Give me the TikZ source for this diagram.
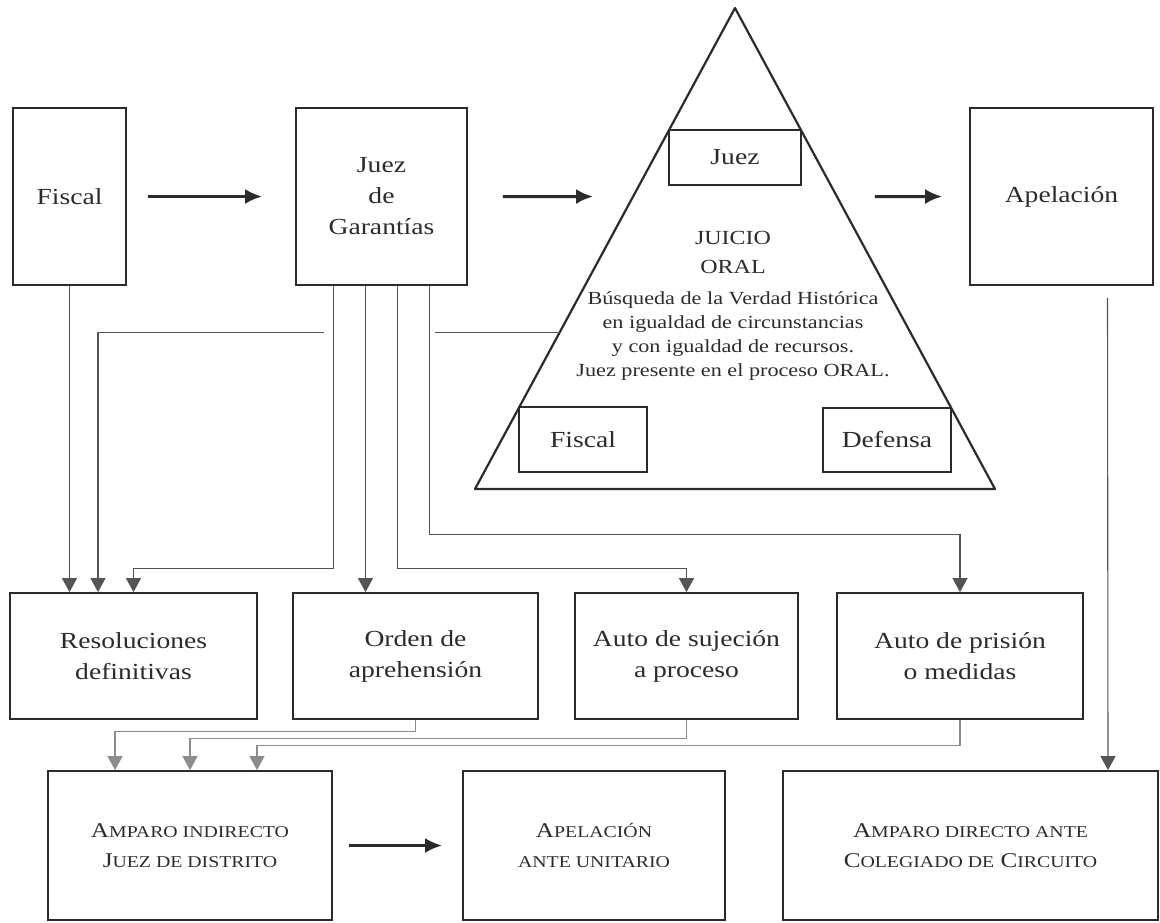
\documentclass[tikz,border=0pt]{standalone}
\usepackage{fontspec}
\setmainfont{Liberation Serif}[FakeStretch=1.2]
\usepackage{tikz}
\usetikzlibrary{calc,arrows.meta}
\definecolor{ink}{rgb}{0.17,0.17,0.17}
\definecolor{wire}{rgb}{0.33,0.33,0.33}
\definecolor{wirelt}{rgb}{0.55,0.55,0.55}
\newcommand{\smcap}[1]{{\fontsize{16.5}{30}\selectfont #1}}

\begin{document}
\begin{tikzpicture}[x=1pt,y=-1pt]
\tikzstyle{bx}=[draw=ink,line width=1.8pt,align=center,text=ink,inner sep=0pt,font=\fontsize{23}{31}\selectfont]
\tikzstyle{sc}=[bx,font=\fontsize{21}{30}\selectfont]
\tikzstyle{big}=[draw=ink,line width=3pt,-{Latex[length=17pt,width=15pt]}]
\tikzstyle{conn}=[draw=wire,line width=1.1pt,-{Triangle[length=14pt,width=15pt]}]
\tikzstyle{conn2}=[conn,draw=wirelt]
\useasboundingbox (0,0) rectangle (1160,922);

% juicio oral
\coordinate (apex) at (735,8);
\coordinate (bl) at (475,489);
\coordinate (br) at (995,489);
\draw[ink,line width=2.2pt,line join=round] (apex) -- (bl) -- (br) -- cycle;
\coordinate (jo-w) at ($(apex)!0.674!(bl)$);
\coordinate (jo-wa) at ($(apex)!0.392!(bl)$);
\coordinate (jo-ea) at ($(apex)!0.392!(br)$);
\node[bx,minimum width=132,minimum height=55] (jz) at (735,157.5) {Juez};
\node[bx,minimum width=128,minimum height=65] (fs) at (583,439.5) {Fiscal};
\node[bx,minimum width=128,minimum height=64] (df) at (887,440) {Defensa};
\node[text=ink,align=center,font=\fontsize{20}{29}\selectfont] (title) at (733,252) {JUICIO\\ORAL};
\node[text=ink,align=center,font=\fontsize{18.5}{24}\selectfont] (desc) at (733,336) {Búsqueda de la Verdad Histórica\\en igualdad de circunstancias\\y con igualdad de recursos.\\Juez presente en el proceso ORAL.};

% top row
\node[bx,minimum width=113,minimum height=177] (fiscal) at (69.5,196.5) {Fiscal};
\node[bx,minimum width=171,minimum height=177] (jg) at (381.5,196.5) {Juez\\de\\Garantías};
\node[bx,minimum width=183,minimum height=177] (apel) at (1061.5,196.5) {Apelación};

% middle row
\node[bx,minimum width=247,minimum height=126] (resol) at (133.5,656) {Resoluciones\\definitivas};
\node[bx,minimum width=245,minimum height=126] (orden) at (415.5,656) {Orden de\\aprehensión};
\node[bx,minimum width=223,minimum height=126] (sujec) at (686.5,656) {Auto de sujeción\\a proceso};
\node[bx,minimum width=246,minimum height=126] (prision) at (960,656) {Auto de prisión\\o medidas};

% bottom row
\node[sc,minimum width=284,minimum height=149] (amind) at (190,845.5) {A\smcap{MPARO INDIRECTO}\\J\smcap{UEZ DE DISTRITO}};
\node[sc,minimum width=262,minimum height=149] (apun) at (594,845.5) {A\smcap{PELACIÓN}\\\smcap{ANTE UNITARIO}};
\node[sc,minimum width=375,minimum height=149] (amdir) at (970.5,845.5) {A\smcap{MPARO DIRECTO ANTE}\\C\smcap{OLEGIADO DE} C\smcap{IRCUITO}};

\draw[big,shorten <=21pt,shorten >=33pt] (fiscal) -- (jg);
\draw[big,shorten <=35pt,shorten >=40pt] (jg) -- (jo-wa);
\draw[big,shorten <=38pt,shorten >=27pt] (jo-ea) -- (apel);
\draw[big,shorten <=16pt,shorten >=20pt] (amind) -- (apun);

% from juez de garantias
\coordinate (jg1) at ([xshift=-48pt]jg.south);
\coordinate (jg2) at ([xshift=-16pt]jg.south);
\coordinate (jg3) at ([xshift=16pt]jg.south);
\coordinate (jg4) at ([xshift=48pt]jg.south);
\coordinate (cut-r) at ($(jg4 |- jo-w)+(5,0)$);
\coordinate (cut-l) at ($(jg1 |- jo-w)+(-10,0)$);

\draw[conn] (fiscal.south) -- (fiscal.south |- resol.north);
\draw[conn,-] (jo-w) -- (cut-r);
\draw[conn] (cut-l) -| ([xshift=-35.5pt]resol.north);
\draw[conn] (jg1) |- ([yshift=24pt]resol.north) -- (resol.north);
\draw[conn] (jg2) -- (jg2 |- orden.north);
\draw[conn] (jg3) |- ([yshift=24pt]sujec.north) -- (sujec.north);
\draw[conn] (jg4) |- ([yshift=58pt]prision.north) -- (prision.north);

\draw[conn2] (orden.south) |- ([xshift=-75pt,yshift=39pt]amind.north) -- ([xshift=-75pt]amind.north);
\draw[conn2] (sujec.south) |- ([yshift=32pt]amind.north) -- (amind.north);
\draw[conn2] (prision.south) |- ([xshift=67pt,yshift=25pt]amind.north) -- ([xshift=67pt]amind.north);

\draw[conn] ([xshift=46pt,yshift=-12pt]apel.south) -- ([xshift=137.5pt]amdir.north);
\end{tikzpicture}
\end{document}
